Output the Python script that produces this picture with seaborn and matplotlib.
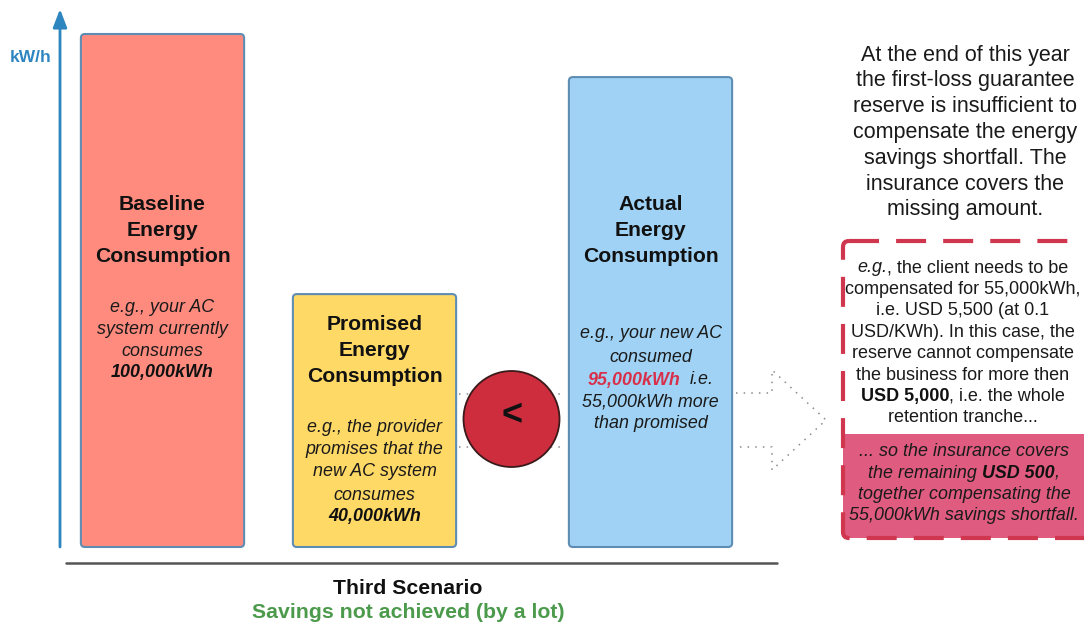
import matplotlib
matplotlib.use("Agg")
import matplotlib.pyplot as plt
from matplotlib.patches import FancyBboxPatch, Circle, Rectangle
from matplotlib.lines import Line2D
import seaborn as sns
import pandas as pd

# ---------------- data ----------------
categories = ["Baseline", "Promised", "Actual"]
bar_heights = [100.0, 49.3, 91.6]          # visual bar heights (Baseline = 100)
bar_colors = ["#FF8B7F", "#FFD966", "#9FD2F4"]
bar_titles = [
    ["Baseline", "Energy", "Consumption"],
    ["Promised", "Energy", "Consumption"],
    ["Actual", "Energy", "Consumption"],
]
baseline_desc = [[("e.g., your AC", "i")],
                 [("system currently", "i")],
                 [("consumes", "i")],
                 [("100,000kWh", "bi")]]
promised_desc = [[("e.g., the provider", "i")],
                 [("promises that the", "i")],
                 [("new AC system", "i")],
                 [("consumes", "i")],
                 [("40,000kWh", "bi")]]
actual_desc = [[("e.g., your new AC", "i")],
               [("consumed", "i")],
               [("95,000kWh", "red"), ("  i.e.", "i")],
               [("55,000kWh more", "i")],
               [("than promised", "i")]]
right_intro = ["At the end of this year", "the first-loss guarantee",
               "reserve is insufficient to", "compensate the energy",
               "savings shortfall. The", "insurance covers the",
               "missing amount."]
box_text = [[("e.g.", "i"), (", the client needs to be", "r")],
            [("compensated for 55,000kWh,", "r")],
            [("i.e. USD 5,500 (at 0.1", "r")],
            [("USD/KWh). In this case, the", "r")],
            [("reserve cannot compensate", "r")],
            [("the business for more then", "r")],
            [("USD 5,000", "b"), (", i.e. the whole", "r")],
            [("retention tranche...", "r")]]
pink_text = [[("... so the insurance covers", "i")],
             [("the remaining ", "i"), ("USD 500", "bi"), (",", "i")],
             [("together compensating the", "i")],
             [("55,000kWh savings shortfall.", "i")]]
axis_label = "kW/h"
scenario_title = "Third Scenario"
scenario_sub = "Savings not achieved (by a lot)"
comparison_sign = "<"

# ---------------- layout ----------------
W, H = 1084, 625
bar_x = [162.5, 374.5, 650.5]     # bar centres (px)
base_px = 547                      # bar bottom (px)
px_per_unit = 513 / 100.0

sns.set_style("white")
plt.rcParams["font.family"] = ["Liberation Sans", "DejaVu Sans"]

fig = plt.figure(figsize=(W / 100, H / 100), dpi=100)
fig.patch.set_facecolor("white")

# bars axis (data units)
axb = fig.add_axes([0, 0, 1, 1])
df = pd.DataFrame({"pos": bar_x, "value": bar_heights, "category": categories})
sns.barplot(data=df, x="pos", y="value", hue="category", hue_order=categories,
            palette=bar_colors, native_scale=True, dodge=False, width=0.77,
            legend=False, ax=axb, saturation=1)
axb.set_xlim(0, W)
axb.set_ylim(-(H - base_px) / px_per_unit, base_px / px_per_unit)
axb.axis("off")

# round the bar corners
for p in list(axb.patches):
    x0, y0, w, h = p.get_x(), p.get_y(), p.get_width(), p.get_height()
    fc = p.get_facecolor()
    p.remove()
    fb = FancyBboxPatch((x0, y0), w, h,
                        boxstyle="round,pad=0,rounding_size=4",
                        mutation_aspect=1 / px_per_unit,
                        facecolor=fc, edgecolor="#5E8DB3", linewidth=1.5)
    axb.add_patch(fb)

# overlay axis in pixel units
ax = fig.add_axes([0, 0, 1, 1])
ax.set_xlim(0, W)
ax.set_ylim(H, 0)
ax.axis("off")
ax.patch.set_alpha(0)

STY = {
    "r": dict(fontweight="normal", fontstyle="normal", color="#1a1a1a"),
    "i": dict(fontweight="normal", fontstyle="italic", color="#1a1a1a"),
    "b": dict(fontweight="bold", fontstyle="normal", color="#111111"),
    "bi": dict(fontweight="bold", fontstyle="italic", color="#111111"),
    "red": dict(fontweight="bold", fontstyle="italic", color="#D8304A"),
}
renderer = fig.canvas.get_renderer()


def width_of(s, size, sty):
    t = ax.text(0, 0, s, fontsize=size, **STY[sty])
    w = t.get_window_extent(renderer).width
    t.remove()
    return w


def rich_line(xc, y, parts, size):
    items = []
    total = 0.0
    for i, (txt, sty) in enumerate(parts):
        sp = width_of("n n", size, sty) - width_of("nn", size, sty)
        lead = len(txt) - len(txt.lstrip(" "))
        trail = len(txt) - len(txt.rstrip(" "))
        core = txt.strip(" ")
        t = ax.text(0, y, core, fontsize=size, ha="left", va="center", **STY[sty])
        w = t.get_window_extent(renderer).width
        items.append((t, lead * sp, w, trail * sp))
        total += lead * sp + w + trail * sp
    x = xc - total / 2
    for t, l, w, tr in items:
        x += l
        t.set_x(x)
        x += w + tr


# y axis arrow
ax.annotate("", xy=(60, 9), xytext=(60, 547),
            arrowprops=dict(arrowstyle="-|>,head_length=1.1,head_width=0.42",
                            color="#2E86C1", lw=2, shrinkA=0, shrinkB=0))
ax.text(31, 57, axis_label, fontsize=12.5, fontweight="bold", color="#2E86C1",
        ha="center", va="center")

# horizontal base line
ax.add_line(Line2D([66, 777], [563, 563], color="#555555", lw=1.8))

# bar titles
title_rows = [[205, 231, 257], [324, 350, 376], [205, 231, 257]]
for xc, lines, rows in zip(bar_x, bar_titles, title_rows):
    for s, y in zip(lines, rows):
        ax.text(xc, y, s, fontsize=15.2, fontweight="bold", color="#111111",
                ha="center", va="center")

desc_rows = [[307, 329, 351, 373], [427, 449, 471, 495, 517], [334, 357, 380, 402, 424]]
for xc, desc, rows in zip(bar_x, [baseline_desc, promised_desc, actual_desc], desc_rows):
    for parts, y in zip(desc, rows):
        rich_line(xc, y, parts, 12.9)

# dotted connectors behind circle
dot = dict(color="#8a8a8a", lw=1.1, linestyle=(0, (1, 4)))
for yy in (394, 447):
    ax.add_line(Line2D([459, 566], [yy, yy], zorder=1, **dot))

# comparison circle
ax.add_patch(Circle((511.5, 419), 48, facecolor="#CE2D3E", edgecolor="#3a1a1a",
                    lw=1.3, zorder=3))
ax.text(512, 416, comparison_sign, fontsize=26, fontweight="bold", color="#111111",
        ha="center", va="center", zorder=4)

# dotted outline arrow
ax.add_line(Line2D([736, 772, 772, 826, 772, 772, 736],
                   [393, 393, 370, 420, 470, 447, 447], **dot))

# right intro text
for i, s in enumerate(right_intro):
    ax.text(965, 55 + 25.8 * i, s, fontsize=15.5, color="#1a1a1a",
            ha="center", va="center")

# dashed box with pink bottom
ax.add_patch(Rectangle((843, 434), 260, 104, facecolor="#DF5B7F", edgecolor="none",
                       zorder=1))
ax.add_patch(FancyBboxPatch((843, 241), 260, 297,
                            boxstyle="round,pad=0,rounding_size=6",
                            facecolor="none", edgecolor="#D0364E", lw=3,
                            linestyle=(0, (7.2, 4.1)), zorder=2))

for i, parts in enumerate(box_text):
    rich_line(963, 268 + 21.4 * i, parts, 13.0)
for i, parts in enumerate(pink_text):
    rich_line(964, 452 + 21.2 * i, parts, 12.9)

# scenario captions
ax.text(408, 589, scenario_title, fontsize=15.3, fontweight="bold", color="#111111",
        ha="center", va="center")
ax.text(408, 613, scenario_sub, fontsize=15.3, fontweight="bold", color="#4C9A4C",
        ha="center", va="center")

fig.savefig("out.png", dpi=100)
